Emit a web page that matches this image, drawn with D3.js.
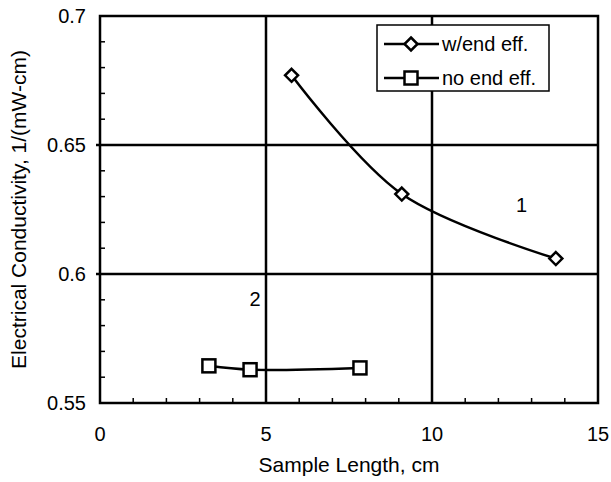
<!DOCTYPE html>
<html>
<head>
<meta charset="utf-8">
<script src="https://cdn.jsdelivr.net/npm/d3@7"></script>
<style>
  html, body { margin: 0; padding: 0; background: #fff; }
  svg text { font-family: "Liberation Sans", Arial, sans-serif; fill: #000; }
</style>
</head>
<body>
<div id="chart"></div>
<script>
// Series
const lengthWithEnd = [5.77, 9.09, 13.73];
const condWithEnd   = [0.677, 0.631, 0.606];
const lengthNoEnd   = [3.28, 4.52, 7.83];
const condNoEnd     = [0.5644, 0.5629, 0.5636];

const xTicks = [0, 5, 10, 15];
const yTicks = [0.55, 0.6, 0.65, 0.7];
const yTickLabels = ["0.55", "0.6", "0.65", "0.7"];

const seriesNames = ["w/end eff.", "no end eff."];
const curveLabels = ["1", "2"];
const curveLabelX = [12.7, 4.67];
const curveLabelY = [0.6268, 0.5905];

const W = 611, H = 482;
const m = { left: 100, right: 13, top: 16, bottom: 79 };
const SW = 2.5; // heavy scanned strokes

const svg = d3.select("#chart").append("svg")
  .attr("width", W).attr("height", H);

const x = d3.scaleLinear().domain([0, 15]).range([m.left, W - m.right]);
const y = d3.scaleLinear().domain([0.55, 0.7]).range([H - m.bottom, m.top]);

// minor ticks, pointing inward
const minorX = d3.range(0, 15.01, 1).filter((v) => v % 5 !== 0);
const minorY = d3.range(0.55, 0.7001, 0.01).filter((v) => Math.abs(v * 20 - Math.round(v * 20)) > 1e-6);

svg.append("g").selectAll("line").data(minorX).join("line")
  .attr("x1", (d) => x(d)).attr("x2", (d) => x(d))
  .attr("y1", y(0.55)).attr("y2", y(0.55) - 5)
  .attr("stroke", "#000").attr("stroke-width", 1.5);
svg.append("g").selectAll("line").data(minorY).join("line")
  .attr("x1", x(0)).attr("x2", x(0) + 5)
  .attr("y1", (d) => y(d)).attr("y2", (d) => y(d))
  .attr("stroke", "#000").attr("stroke-width", 1.5);

// gridlines at majors
svg.append("g").selectAll("line").data(xTicks.slice(1, -1)).join("line")
  .attr("x1", (d) => x(d)).attr("x2", (d) => x(d))
  .attr("y1", y(0.55)).attr("y2", y(0.7))
  .attr("stroke", "#000").attr("stroke-width", SW);
svg.append("g").selectAll("line").data(yTicks.slice(1, -1)).join("line")
  .attr("x1", x(0) - 4).attr("x2", x(15))
  .attr("y1", (d) => y(d)).attr("y2", (d) => y(d))
  .attr("stroke", "#000").attr("stroke-width", SW);

// frame
svg.append("rect")
  .attr("x", x(0)).attr("y", y(0.7))
  .attr("width", x(15) - x(0)).attr("height", y(0.55) - y(0.7))
  .attr("fill", "none").attr("stroke", "#000").attr("stroke-width", SW);

// tick labels
svg.append("g").selectAll("text").data(xTicks).join("text")
  .attr("x", (d) => x(d)).attr("y", y(0.55) + 38)
  .attr("text-anchor", "middle").attr("font-size", 20)
  .text((d) => d);
svg.append("g").selectAll("text").data(yTicks).join("text")
  .attr("x", x(0) - 14).attr("y", (d) => y(d) + 7)
  .attr("text-anchor", "end").attr("font-size", 20)
  .text((d, i) => yTickLabels[i]);

// axis titles
svg.append("text")
  .attr("x", (x(0) + x(15)) / 2).attr("y", H - 10)
  .attr("text-anchor", "middle").attr("font-size", 21)
  .text("Sample Length, cm");
svg.append("text")
  .attr("transform", `translate(26,${(y(0.55) + y(0.7)) / 2}) rotate(-90)`)
  .attr("text-anchor", "middle").attr("font-size", 21)
  .text("Electrical Conductivity, 1/(mW-cm)");

// curves
const line = d3.line().x((d) => x(d[0])).y((d) => y(d[1])).curve(d3.curveCatmullRom.alpha(0.5));
const ptsWith = lengthWithEnd.map((v, i) => [v, condWithEnd[i]]);
const ptsNo = lengthNoEnd.map((v, i) => [v, condNoEnd[i]]);

svg.append("path").datum(ptsWith).attr("d", line)
  .attr("fill", "none").attr("stroke", "#000").attr("stroke-width", SW);
svg.append("path").datum(ptsNo).attr("d", line)
  .attr("fill", "none").attr("stroke", "#000").attr("stroke-width", SW);

const diamond = (cx, cy, r) => `M${cx},${cy - r}L${cx + r},${cy}L${cx},${cy + r}L${cx - r},${cy}Z`;

svg.append("g").selectAll("path").data(ptsWith).join("path")
  .attr("d", (d) => diamond(x(d[0]), y(d[1]), 6.5))
  .attr("fill", "#fff").attr("stroke", "#000").attr("stroke-width", SW);
svg.append("g").selectAll("rect").data(ptsNo).join("rect")
  .attr("x", (d) => x(d[0]) - 6.5).attr("y", (d) => y(d[1]) - 6.5)
  .attr("width", 13).attr("height", 13)
  .attr("fill", "#fff").attr("stroke", "#000").attr("stroke-width", SW);

// curve numbers
svg.append("g").selectAll("text").data(curveLabels).join("text")
  .attr("x", (d, i) => x(curveLabelX[i])).attr("y", (d, i) => y(curveLabelY[i]) + 7)
  .attr("text-anchor", "middle").attr("font-size", 20)
  .text((d) => d);

// legend
const lg = svg.append("g").attr("transform", "translate(377,25)");
lg.append("rect").attr("width", 172).attr("height", 66)
  .attr("fill", "#fff").attr("stroke", "#000").attr("stroke-width", 1.5);
seriesNames.forEach((name, i) => {
  const cy = 19 + i * 34;
  lg.append("line").attr("x1", 7).attr("x2", 62).attr("y1", cy).attr("y2", cy)
    .attr("stroke", "#000").attr("stroke-width", SW);
  if (i === 0) {
    lg.append("path").attr("d", diamond(34, cy, 6.5))
      .attr("fill", "#fff").attr("stroke", "#000").attr("stroke-width", SW);
  } else {
    lg.append("rect").attr("x", 27.5).attr("y", cy - 6.5).attr("width", 13).attr("height", 13)
      .attr("fill", "#fff").attr("stroke", "#000").attr("stroke-width", SW);
  }
  lg.append("text").attr("x", 65).attr("y", cy + 7).attr("font-size", 20).text(name);
});
</script>
</body>
</html>
